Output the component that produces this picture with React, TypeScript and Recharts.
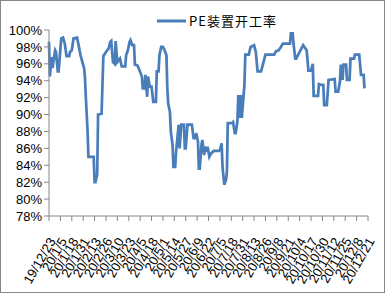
import React from "react";
import { LineChart, Line, XAxis, YAxis, Legend } from "recharts";

const seriesName = "PE装置开工率";

const dayOffsets = [
  0, 1, 3, 4, 5, 7, 8, 10, 11, 13, 14, 16, 18, 20, 23, 24, 26, 28, 32, 33, 36, 40,
  41, 42, 43, 44, 45, 51, 52, 53, 55, 56, 60, 62, 65, 68, 70, 71, 73, 75, 76, 78,
  81, 83, 87, 88, 90, 92, 93, 95, 97, 98, 101, 103, 106, 107, 109, 110, 112, 113,
  115, 117, 119, 122, 123, 125, 126, 128, 130, 132, 134, 135, 136, 138, 139, 141,
  142, 144, 145, 148, 149, 151, 154, 155, 156, 158, 163, 165, 167, 168, 170, 171,
  172, 174, 175, 177, 178, 180, 181, 183, 185, 188, 194, 195, 197, 198, 200, 202,
  203, 204, 209, 210, 212, 213, 215, 216, 218, 219, 220, 223, 224, 228, 230, 234,
  236, 238, 242, 245, 247, 257, 259, 262, 264, 267, 275, 276, 278, 279, 281, 282,
  285, 290, 292, 294, 296, 299, 301, 302, 307, 308, 311, 313, 314, 317, 319, 326,
  327, 330, 332, 333, 335, 336, 339, 340, 343, 344, 348, 349, 354, 356, 359, 360,
];

const rates = [
  98.6, 94.5, 96.8, 95.5, 96.2, 97.6, 97.4, 95.1, 95.1, 97.8, 99.0, 99.1, 98.4, 96.9, 96.9, 97.4, 97.6, 99.0, 99.1, 98.6, 97.0, 95.5,
  94.5, 92.1, 90.1, 88.0, 85.0, 85.0, 82.0, 82.0, 82.9, 90.0, 90.1, 96.9, 97.4, 97.8, 98.6, 98.7, 96.2, 96.0, 98.7, 96.2,
  96.6, 95.7, 95.7, 97.0, 97.6, 98.6, 98.8, 98.2, 98.2, 95.9, 95.8, 95.3, 94.5, 93.1, 93.1, 94.7, 92.1, 94.5,
  93.3, 93.3, 91.5, 91.5, 95.1, 95.1, 97.0, 98.0, 98.0, 97.6, 97.0, 93.1, 91.3, 90.3, 88.0, 86.4,
  83.8, 83.8, 85.6, 88.8, 86.0, 88.8, 88.8, 86.0, 86.0, 88.8, 88.8, 87.2, 87.2, 87.8, 86.8, 83.6,
  83.6, 86.4, 87.0, 85.2, 86.2, 85.6, 86.2, 85.0, 85.4, 85.7, 85.7, 85.8, 86.6, 83.8, 81.7, 82.3,
  83.2, 89.0, 89.0, 89.1, 87.8, 87.8, 89.2, 92.3, 89.6, 92.3, 89.6, 93.5, 97.1, 97.1, 98.0, 98.2,
  97.4, 95.1, 95.1, 96.3, 97.1, 97.1, 97.5, 97.6, 97.9, 98.4, 98.4, 99.6, 99.6, 98.4, 96.6, 96.6,
  97.2, 98.2, 97.9, 97.6, 95.2, 95.2, 96.0, 92.2, 92.2, 93.6, 93.5, 93.5, 91.1, 91.1, 94.1, 94.2,
  92.7, 92.7, 93.9, 95.9, 94.1, 95.9, 95.9, 94.1, 94.1, 96.6, 96.6, 97.1, 97.1, 94.7, 94.7, 93.1,
];

const tickDays = [
  0, 13, 26, 39, 52, 65, 78, 91, 104, 117, 130, 143, 156, 169, 182, 195, 208, 221, 234,
  247, 260, 273, 286, 299, 312, 325, 338, 351, 364,
];

const tickLabels = [
  "19/12/23", "20/1/5", "20/1/18", "20/1/31", "20/2/13", "20/2/26", "20/3/10",
  "20/3/23", "20/4/5", "20/4/18", "20/5/1", "20/5/14", "20/5/27", "20/6/9",
  "20/6/22", "20/7/5", "20/7/18", "20/7/31", "20/8/13", "20/8/26", "20/9/8",
  "20/9/21", "20/10/4", "20/10/17", "20/10/30", "20/11/12", "20/11/25",
  "20/12/8", "20/12/21",
];

const yTicks = [78, 80, 82, 84, 86, 88, 90, 92, 94, 96, 98, 100];

const data = dayOffsets.map((d, i) => ({ day: d, rate: rates[i] }));

const FONT = "'Liberation Sans', Arial, sans-serif";
const LINE_COLOR = "#4A7EBB";
const AXIS_COLOR = "#868686";

const XTick = (props: any) => {
  const { x, y, payload } = props;
  const idx = tickDays.indexOf(payload.value);
  return (
    <g transform={`translate(${x + 7},${y + 18})`}>
      <text
        x={0}
        y={0}
        textAnchor="end"
        transform="rotate(-60)"
        fontSize={13}
        fontFamily={FONT}
        fill="#000"
      >
        {idx >= 0 ? tickLabels[idx] : ""}
      </text>
    </g>
  );
};

const LegendContent = () => (
  <div style={{ display: "flex", alignItems: "center", fontFamily: FONT, fontSize: 13, color: "#000", whiteSpace: "nowrap" }}>
    <svg width={30} height={10} style={{ marginRight: 2 }}>
      <line x1={0} y1={5} x2={29} y2={5} stroke={LINE_COLOR} strokeWidth={3} />
    </svg>
    <span style={{ fontFamily: "'Noto Sans CJK SC', " + FONT, letterSpacing: 1 }}>{seriesName}</span>
  </div>
);

export default function App() {
  return (
    <div style={{ position: "absolute", left: 0, top: 0, width: 385, height: 293, background: "#fff" }}>
      <LineChart
        width={385}
        height={293}
        data={data}
        margin={{ top: 30, right: 17, bottom: 5, left: 0 }}
      >
        <XAxis
          dataKey="day"
          type="number"
          domain={[0, 364]}
          ticks={tickDays}
          interval={0}
          tick={<XTick />}
          height={72}
          axisLine={{ stroke: AXIS_COLOR }}
          tickLine={{ stroke: AXIS_COLOR }}
          tickSize={5}
        />
        <YAxis
          type="number"
          domain={[78, 100]}
          ticks={yTicks}
          interval={0}
          width={49}
          tickFormatter={(v: number) => `${v}%`}
          tick={{ fontSize: 13, fontFamily: FONT, fill: "#000" }}
          axisLine={{ stroke: AXIS_COLOR }}
          tickLine={{ stroke: AXIS_COLOR }}
          tickSize={5}
          allowDataOverflow
        />
        <Legend
          layout="vertical"
          align="center"
          verticalAlign="middle"
          content={<LegendContent />}
          wrapperStyle={{ position: "absolute", top: 11, left: 157, width: 140 }}
        />
        <Line
          dataKey="rate"
          name={seriesName}
          type="linear"
          stroke={LINE_COLOR}
          strokeWidth={2.75}
          dot={false}
          isAnimationActive={false}
        />
      </LineChart>
      <div
        style={{
          position: "absolute",
          left: 0,
          top: 0,
          width: 385,
          height: 293,
          boxSizing: "border-box",
          border: "1px solid #868686",
          pointerEvents: "none",
        }}
      />
    </div>
  );
}
